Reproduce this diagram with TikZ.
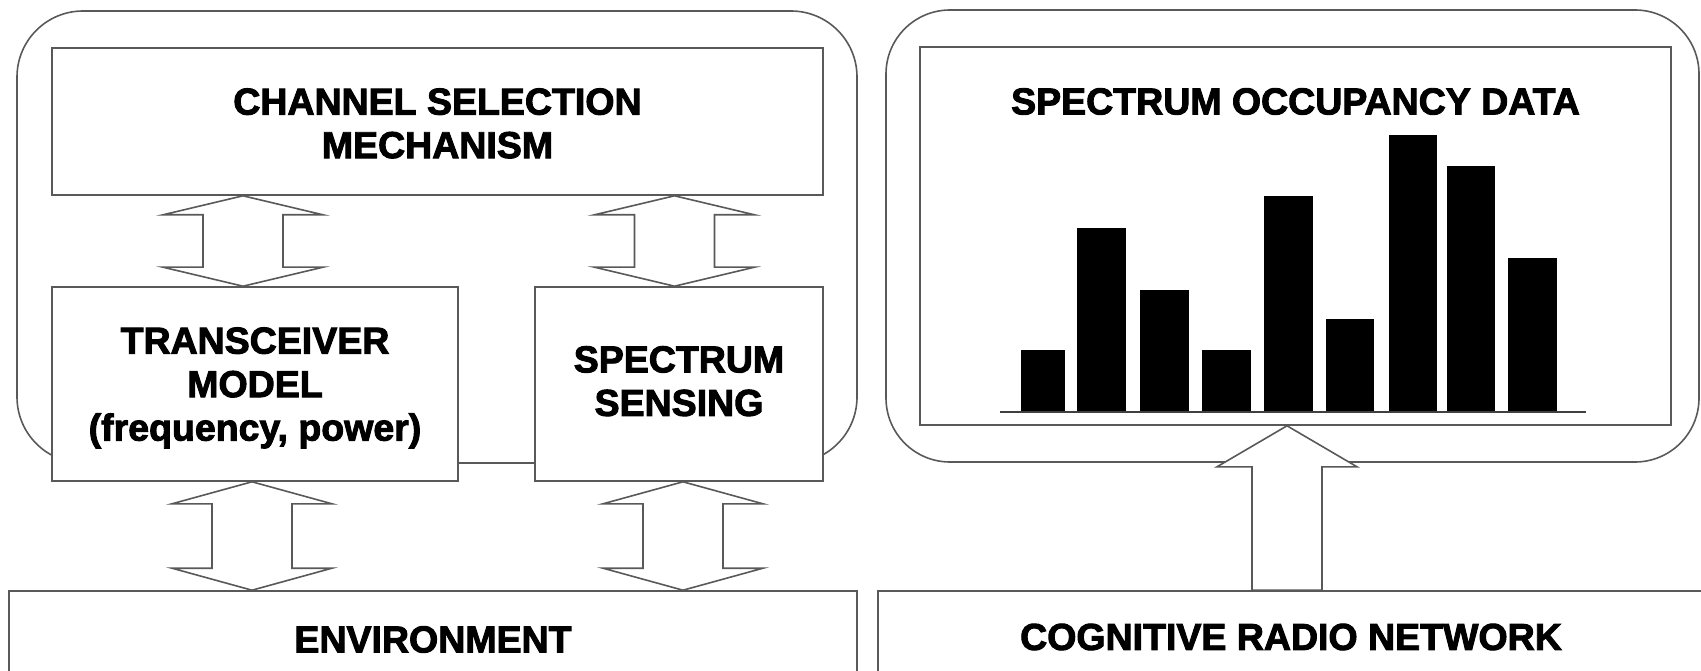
\documentclass[tikz,border=0pt]{standalone}
\usepackage{fontspec}
\setmainfont{Liberation Sans}[BoldFeatures={FakeBold=2.5}]
\usetikzlibrary{calc}
\newcommand\mydblarrow[3]{%
  \draw[blk] let \p1=(#1), \p2=(#2) in
    (\x1,\y1) -- (\x1+80pt,\y1-#3) -- (\x1+40pt,\y1-#3) -- (\x1+40pt,\y2+#3)
    -- (\x1+80pt,\y2+#3) -- (\x2,\y2) -- (\x1-80pt,\y2+#3) -- (\x1-40pt,\y2+#3)
    -- (\x1-40pt,\y1-#3) -- (\x1-80pt,\y1-#3) -- cycle;}
\begin{document}
\begin{tikzpicture}[x=1pt,y=-1pt,
  lin/.style={draw=black!65, line width=1.6pt},
  txt/.style={font=\bfseries\fontsize{37.5}{43.5}\selectfont, align=center},
  box/.style={lin, fill=white, rectangle, inner sep=0pt, txt},
  panel/.style={lin, rectangle, inner sep=0pt},
  blk/.style={lin, fill=white},
  bar/.style={fill=black, draw=none}
]
\useasboundingbox (0,0) rectangle (1701,671);
\clip (0,0) rectangle (1701,671);

% rounded panels
\node[panel, rounded corners=66pt, minimum width=840pt, minimum height=452pt] (lpanel) at (437,237) {};
\node[panel, rounded corners=64pt, minimum width=813pt, minimum height=452pt] (rpanel) at (1292.5,236) {};

% boxes
\node[box, minimum width=771pt, minimum height=147pt] (chan) at (437.5,121.5) {\rule{0pt}{30pt}CHANNEL SELECTION\\MECHANISM};
\node[box, minimum width=406pt, minimum height=194pt] (trans) at (255,384) {TRANSCEIVER\\MODEL\\\smash{(frequency, power)}};
\node[box, minimum width=288pt, minimum height=194pt] (sens) at (679,384) {SPECTRUM\\SENSING\rule[-6pt]{0pt}{6pt}};
\node[box, minimum width=848pt, minimum height=97pt] (env) at (433,639.5) {ENVIRONMENT};
\node[box, minimum width=826pt, minimum height=92pt] (crn) at (1291,637) {COGNITIVE RADIO NETWORK};
\node[box, minimum width=751pt, minimum height=378pt] (occ) at (1295.5,236) {};
\node[txt, inner sep=0pt] (occt) at (1295.5,101.5) {SPECTRUM OCCUPANCY DATA};

% bar chart
\fill[bar] (1021,350) rectangle (1065,412);
\fill[bar] (1077,228) rectangle (1126,412);
\fill[bar] (1140,290) rectangle (1189,412);
\fill[bar] (1202,350) rectangle (1251,412);
\fill[bar] (1264,196) rectangle (1313,412);
\fill[bar] (1326,319) rectangle (1374,412);
\fill[bar] (1389,135) rectangle (1437,412);
\fill[bar] (1447,166) rectangle (1495,412);
\fill[bar] (1508,258) rectangle (1557,412);
\draw[draw=black!75, line width=1.6pt] (1000,412) -- (1586,412);

% double block arrows
\coordinate (aBot) at ([xshift=-12pt]trans.north);
\coordinate (aTop) at (aBot |- chan.south);
\coordinate (bBot) at ([xshift=-4.5pt]sens.north);
\coordinate (bTop) at (bBot |- chan.south);
\coordinate (cTop) at ([xshift=-3pt]trans.south);
\coordinate (cBot) at (cTop |- env.north);
\coordinate (dTop) at ([xshift=4pt]sens.south);
\coordinate (dBot) at (dTop |- env.north);
\mydblarrow{aTop}{aBot}{19pt}
\mydblarrow{bTop}{bBot}{19pt}
\mydblarrow{cTop}{cBot}{22pt}
\mydblarrow{dTop}{dBot}{22pt}

% up arrow
\coordinate (upTip) at ([xshift=-8.5pt]occ.south);
\coordinate (upBase) at (upTip |- crn.north);
\draw[blk] let \p1=(upTip), \p2=(upBase) in
  (\x1,\y1) -- (\x1+70pt,\y1-41pt) -- (\x1+35pt,\y1-41pt) -- (\x1+35pt,\y2)
  -- (\x1-35pt,\y2) -- (\x1-35pt,\y1-41pt) -- (\x1-70pt,\y1-41pt) -- cycle;
\end{tikzpicture}
\end{document}
